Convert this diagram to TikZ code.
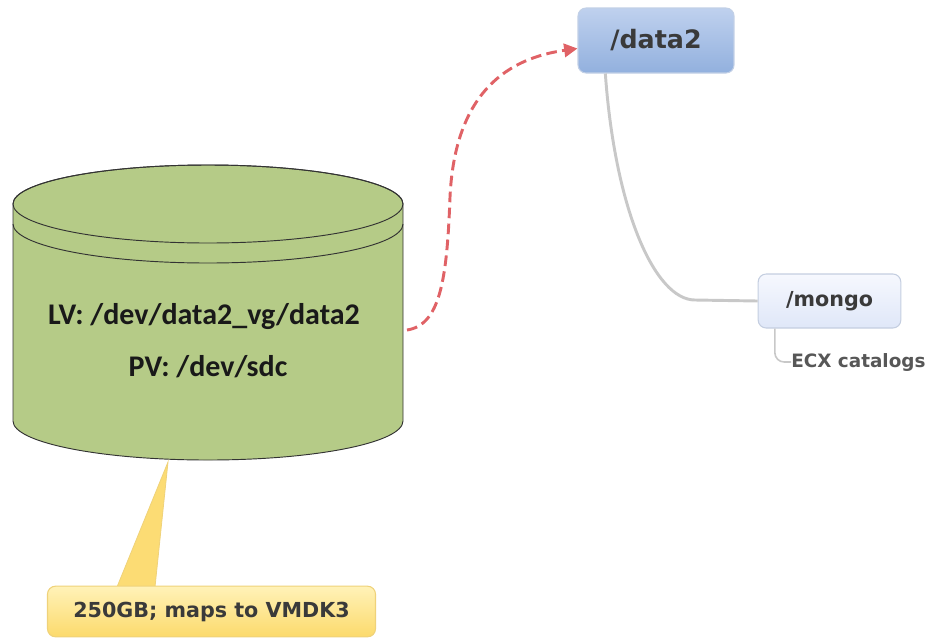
\documentclass[tikz,border=0pt]{standalone}
\usepackage{fontspec}
\setmainfont{DejaVu Sans}
\newfontfamily\calibri{Carlito}
\usetikzlibrary{arrows.meta,shapes.geometric}

\definecolor{diskgreen}{HTML}{B5CB87}
\definecolor{linkred}{HTML}{E06266}
\definecolor{branchgrey}{HTML}{C8C8C8}
\definecolor{labelgrey}{HTML}{3A3A3A}
\definecolor{rootTop}{HTML}{BFD1EE}
\definecolor{rootBottom}{HTML}{92B0DE}
\definecolor{rootLine}{HTML}{C2D0E6}
\definecolor{subTop}{HTML}{F6F8FE}
\definecolor{subBottom}{HTML}{DFE7F8}
\definecolor{subLine}{HTML}{C4CEE0}
\definecolor{noteTop}{HTML}{FFF2B8}
\definecolor{noteBottom}{HTML}{FCDA6C}
\definecolor{noteLine}{HTML}{EFD27A}

\tikzset{
  folder/.style={draw=#1, rounded corners=6pt, line width=0.8pt, text=labelgrey,
    font=\bfseries},
  disktext/.style={text=black!90, font=\calibri\bfseries\fontsize{22.5}{26}\selectfont},
  branch/.style={draw=branchgrey, line width=2.2pt},
}

\begin{document}
\begin{tikzpicture}[x=0.75pt,y=-0.75pt,>={Triangle[length=10pt,width=10pt]}]
\useasboundingbox (0,0) rectangle (927,640);

% the disk
\filldraw[fill=diskgreen,draw=black!80,line width=0.7pt]
  (13,204) -- (13,421) arc[start angle=180,end angle=0,x radius=195,y radius=39]
  -- (403,204) arc[start angle=0,end angle=-180,x radius=195,y radius=39] -- cycle;
\draw[black!80,line width=0.7pt] (208,204) ellipse[x radius=195,y radius=39];
\draw[black!80,line width=0.7pt] (13,224) arc[start angle=180,end angle=0,x radius=195,y radius=39];
\node[disktext] (lv) at (204,317) {LV: /dev/data2\_vg/data2};
\node[disktext] (pv) at (208,367) {PV: /dev/sdc};
\coordinate (disk) at (407,330);
\coordinate (tip) at (168,462);

% mount points
\node[folder=rootLine, top color=rootTop, bottom color=rootBottom,
  minimum width=117pt, minimum height=48.75pt, font=\bfseries\fontsize{19}{22}\selectfont] (data2) at (656,40.5) {/data2};
\node[folder=subLine, top color=subTop, bottom color=subBottom,
  minimum width=107pt, minimum height=40.5pt, font=\bfseries\fontsize{15.5}{18}\selectfont] (mongo) at (829.5,301) {/mongo};
\node[anchor=west, inner sep=0pt, text=labelgrey!85, font=\bfseries\fontsize{13.8}{16}\selectfont] (ecx) at (791,362) {ECX catalogs};

\draw[branch] ([xshift=-38pt]data2.south) .. controls (615,210) and (655,300) .. (695,300) -- (mongo.west);
\draw[draw=branchgrey, line width=1.2pt, rounded corners=7pt] ([xshift=-41pt]mongo.south) |- (ecx.west);

% volume link
\draw[->, linkred, line width=2.2pt, dash pattern=on 8pt off 4pt]
  (disk) .. controls (440,325) and (447,280) .. (450,197)
  .. controls (455,90) and (510,58) .. ([yshift=-6pt]data2.west);

% size callout
\filldraw[fill=noteBottom!90!noteTop, draw=noteLine, line width=0.6pt] (117,587) -- (tip) -- (155,587) -- cycle;
\node[draw=noteLine, rounded corners=6pt, line width=0.8pt, top color=noteTop, bottom color=noteBottom,
  minimum width=246pt, minimum height=38pt, text=labelgrey, font=\bfseries\fontsize{15.5}{18}\selectfont] (note) at (211.5,611.5) {250GB; maps to VMDK3};

\end{tikzpicture}
\end{document}
